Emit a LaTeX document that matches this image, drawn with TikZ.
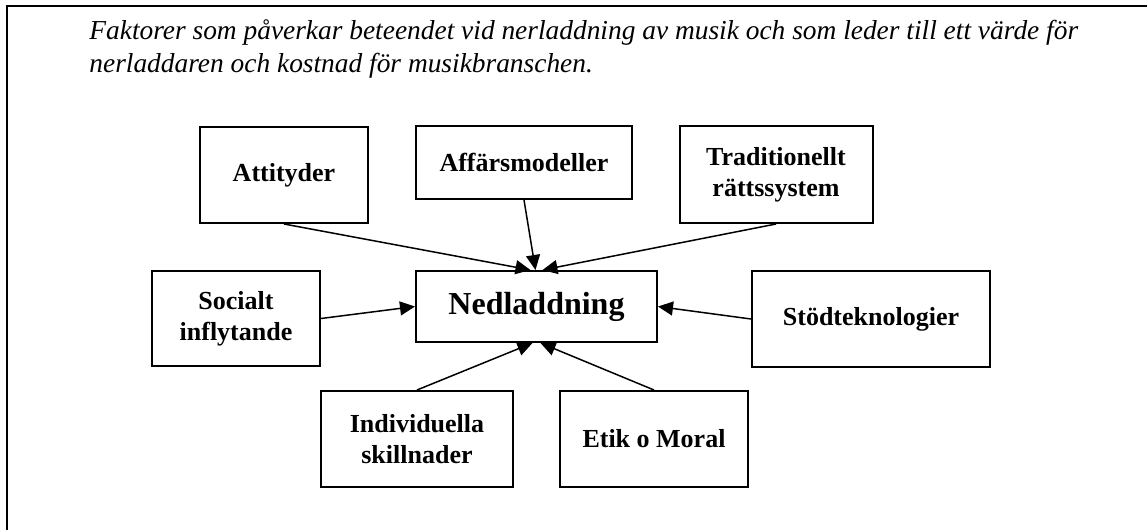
\documentclass[tikz,border=0pt]{standalone}
\usepackage{fontspec}
\setmainfont{Liberation Serif}
\usetikzlibrary{arrows.meta}

\begin{document}
\begin{tikzpicture}[x=0.5pt,y=-0.5pt,
        faktor/.style={draw,line width=1pt,inner sep=0pt,align=center,
            font=\fontsize{13}{15.5}\selectfont\bfseries},
        pil/.style={-{Triangle[length=7.5pt,width=7pt]},line width=0.75pt}]
                \useasboundingbox (0,0) rectangle (1147,530);
                \draw [line width=1pt] (7,530) -- (7,6) -- (1147,6);
                \node [anchor=north west,inner sep=0pt,align=left,
                    font=\fontsize{13.7}{16.5}\selectfont\itshape] (rubrik) at (89,19)
                    {Faktorer som påverkar beteendet vid nerladdning av musik och som leder till ett värde för\\
                     nerladdaren och kostnad för musikbranschen.};
                \node [faktor,minimum width=84pt,minimum height=48pt] (att) at (284,175) {Attityder};
                \node [faktor,minimum width=108pt,minimum height=36.5pt] (aff) at (524,162.5) {Affärsmodeller};
                \node [faktor,minimum width=96.5pt,minimum height=48.5pt] (trad) at (776,174.5) {Traditionellt\\rättssystem};
                \node [faktor,minimum width=84pt,minimum height=47.5pt] (soc) at (236,318.5) {Socialt\\inflytande};
                \node [faktor,minimum width=120.5pt,minimum height=35.5pt,
                    font=\fontsize{16}{19}\selectfont\bfseries] (ned) at (536.5,306.5) {Nedladdning};
                \node [faktor,minimum width=119pt,minimum height=48pt] (stod) at (871,319) {Stödteknologier};
                \node [faktor,minimum width=96pt,minimum height=48pt] (ind) at (417,439) {Individuella\\skillnader};
                \node [faktor,minimum width=94pt,minimum height=48pt] (etik) at (654,439) {Etik o Moral};
                \draw [pil] (att.south) -- ([xshift=-3pt]ned.north);
                \draw [pil] (aff.south) -- ([xshift=-0.5pt]ned.north);
                \draw [pil] (trad.south) -- ([xshift=3pt]ned.north);
                \draw [pil] (soc.east) -- (ned.west);
                \draw [pil] (stod.west) -- (ned.east);
                \draw [pil] (ind.north) -- ([xshift=-2pt]ned.south);
                \draw [pil] (etik.north) -- ([xshift=2pt]ned.south);
            \end{tikzpicture}
\end{document}
